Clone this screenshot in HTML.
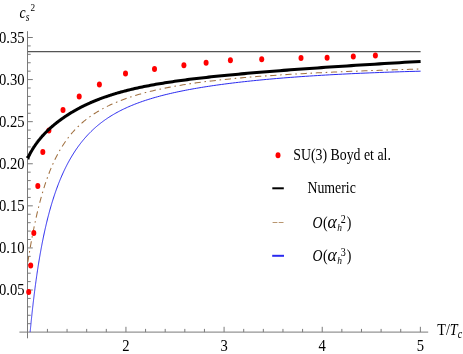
<!DOCTYPE html>
<html><head><meta charset="utf-8"><title>chart</title>
<style>html,body{margin:0;padding:0;background:#fff;}body{width:463px;height:354px;overflow:hidden;font-family:"Liberation Serif",serif;}svg{position:absolute;left:0;top:0;will-change:transform}</style></head>
<body>
<svg width="463" height="354" viewBox="0 0 463 354" style="display:block">
<rect width="463" height="354" fill="#fff"/>
<g stroke="#7a7a7a" stroke-width="1" fill="none" shape-rendering="auto">
<line x1="27.5" y1="31.2" x2="27.5" y2="338.3"/>
<line x1="19.4" y1="332.1" x2="428.2" y2="332.1"/>
<line x1="27.5" y1="323.68" x2="30.70" y2="323.68"/>
<line x1="27.5" y1="315.27" x2="30.70" y2="315.27"/>
<line x1="27.5" y1="306.85" x2="30.70" y2="306.85"/>
<line x1="27.5" y1="298.43" x2="30.70" y2="298.43"/>
<line x1="27.5" y1="290.01" x2="32.80" y2="290.01"/>
<line x1="27.5" y1="281.60" x2="30.70" y2="281.60"/>
<line x1="27.5" y1="273.18" x2="30.70" y2="273.18"/>
<line x1="27.5" y1="264.76" x2="30.70" y2="264.76"/>
<line x1="27.5" y1="256.35" x2="30.70" y2="256.35"/>
<line x1="27.5" y1="247.93" x2="32.80" y2="247.93"/>
<line x1="27.5" y1="239.51" x2="30.70" y2="239.51"/>
<line x1="27.5" y1="231.09" x2="30.70" y2="231.09"/>
<line x1="27.5" y1="222.68" x2="30.70" y2="222.68"/>
<line x1="27.5" y1="214.26" x2="30.70" y2="214.26"/>
<line x1="27.5" y1="205.84" x2="32.80" y2="205.84"/>
<line x1="27.5" y1="197.43" x2="30.70" y2="197.43"/>
<line x1="27.5" y1="189.01" x2="30.70" y2="189.01"/>
<line x1="27.5" y1="180.59" x2="30.70" y2="180.59"/>
<line x1="27.5" y1="172.17" x2="30.70" y2="172.17"/>
<line x1="27.5" y1="163.76" x2="32.80" y2="163.76"/>
<line x1="27.5" y1="155.34" x2="30.70" y2="155.34"/>
<line x1="27.5" y1="146.92" x2="30.70" y2="146.92"/>
<line x1="27.5" y1="138.51" x2="30.70" y2="138.51"/>
<line x1="27.5" y1="130.09" x2="30.70" y2="130.09"/>
<line x1="27.5" y1="121.67" x2="32.80" y2="121.67"/>
<line x1="27.5" y1="113.25" x2="30.70" y2="113.25"/>
<line x1="27.5" y1="104.84" x2="30.70" y2="104.84"/>
<line x1="27.5" y1="96.42" x2="30.70" y2="96.42"/>
<line x1="27.5" y1="88.00" x2="30.70" y2="88.00"/>
<line x1="27.5" y1="79.59" x2="32.80" y2="79.59"/>
<line x1="27.5" y1="71.17" x2="30.70" y2="71.17"/>
<line x1="27.5" y1="62.75" x2="30.70" y2="62.75"/>
<line x1="27.5" y1="54.33" x2="30.70" y2="54.33"/>
<line x1="27.5" y1="45.92" x2="30.70" y2="45.92"/>
<line x1="27.5" y1="37.50" x2="32.80" y2="37.50"/>
<line x1="47.43" y1="332.1" x2="47.43" y2="328.90"/>
<line x1="67.06" y1="332.1" x2="67.06" y2="328.90"/>
<line x1="86.68" y1="332.1" x2="86.68" y2="328.90"/>
<line x1="106.31" y1="332.1" x2="106.31" y2="328.90"/>
<line x1="125.94" y1="332.1" x2="125.94" y2="326.80"/>
<line x1="145.57" y1="332.1" x2="145.57" y2="328.90"/>
<line x1="165.20" y1="332.1" x2="165.20" y2="328.90"/>
<line x1="184.82" y1="332.1" x2="184.82" y2="328.90"/>
<line x1="204.45" y1="332.1" x2="204.45" y2="328.90"/>
<line x1="224.08" y1="332.1" x2="224.08" y2="326.80"/>
<line x1="243.71" y1="332.1" x2="243.71" y2="328.90"/>
<line x1="263.34" y1="332.1" x2="263.34" y2="328.90"/>
<line x1="282.96" y1="332.1" x2="282.96" y2="328.90"/>
<line x1="302.59" y1="332.1" x2="302.59" y2="328.90"/>
<line x1="322.22" y1="332.1" x2="322.22" y2="326.80"/>
<line x1="341.85" y1="332.1" x2="341.85" y2="328.90"/>
<line x1="361.48" y1="332.1" x2="361.48" y2="328.90"/>
<line x1="381.10" y1="332.1" x2="381.10" y2="328.90"/>
<line x1="400.73" y1="332.1" x2="400.73" y2="328.90"/>
<line x1="420.36" y1="332.1" x2="420.36" y2="326.80"/>
</g>
<line x1="27.8" y1="51.65" x2="420.6" y2="51.65" stroke="#555" stroke-width="1.1"/>
<path d="M30.14,332.10 L30.17,331.77 L30.20,331.43 L30.24,331.07 L30.27,330.72 L30.31,330.36 L30.34,329.99 L30.38,329.62 L30.41,329.25 L30.45,328.87 L30.49,328.49 L30.52,328.10 L30.56,327.71 L30.60,327.32 L30.64,326.92 L30.68,326.52 L30.72,326.11 L30.76,325.70 L30.80,325.28 L30.84,324.86 L30.89,324.43 L30.93,324.00 L30.97,323.56 L31.02,323.12 L31.06,322.68 L31.11,322.23 L31.15,321.77 L31.20,321.31 L31.25,320.85 L31.29,320.38 L31.34,319.90 L31.39,319.43 L31.44,318.94 L31.49,318.45 L31.55,317.96 L31.60,317.46 L31.65,316.95 L31.70,316.44 L31.76,315.92 L31.81,315.40 L31.87,314.88 L31.93,314.35 L31.98,313.81 L32.04,313.27 L32.10,312.72 L32.16,312.17 L32.22,311.61 L32.28,311.04 L32.35,310.47 L32.41,309.90 L32.47,309.32 L32.54,308.73 L32.61,308.14 L32.67,307.54 L32.74,306.94 L32.81,306.33 L32.88,305.71 L32.95,305.09 L33.02,304.47 L33.09,303.84 L33.17,303.20 L33.24,302.55 L33.32,301.91 L33.40,301.25 L33.47,300.59 L33.55,299.92 L33.63,299.25 L33.72,298.57 L33.80,297.89 L33.88,297.20 L33.97,296.50 L34.05,295.80 L34.14,295.09 L34.23,294.38 L34.32,293.66 L34.41,292.93 L34.50,292.20 L34.59,291.46 L34.69,290.72 L34.78,289.97 L34.88,289.21 L34.98,288.45 L35.08,287.69 L35.18,286.91 L35.29,286.13 L35.39,285.35 L35.50,284.56 L35.60,283.76 L35.71,282.96 L35.82,282.15 L35.93,281.34 L36.05,280.52 L36.16,279.69 L36.28,278.86 L36.40,278.02 L36.52,277.18 L36.64,276.33 L36.76,275.48 L36.89,274.62 L37.01,273.75 L37.14,272.88 L37.27,272.00 L37.40,271.12 L37.54,270.23 L37.67,269.34 L37.81,268.44 L37.95,267.54 L38.09,266.63 L38.24,265.71 L38.38,264.79 L38.53,263.87 L38.68,262.94 L38.83,262.00 L38.98,261.06 L39.14,260.12 L39.30,259.17 L39.46,258.21 L39.62,257.25 L39.79,256.29 L39.95,255.32 L40.12,254.34 L40.29,253.36 L40.47,252.38 L40.65,251.39 L40.82,250.40 L41.01,249.40 L41.19,248.40 L41.38,247.40 L41.57,246.39 L41.76,245.37 L41.95,244.36 L42.15,243.33 L42.35,242.31 L42.55,241.28 L42.76,240.25 L42.97,239.21 L43.18,238.17 L43.39,237.13 L43.61,236.08 L43.83,235.03 L44.05,233.98 L44.28,232.92 L44.51,231.86 L44.74,230.80 L44.98,229.73 L45.22,228.67 L45.46,227.60 L45.71,226.52 L45.96,225.45 L46.21,224.37 L46.47,223.29 L46.73,222.21 L46.99,221.12 L47.26,220.03 L47.53,218.94 L47.81,217.85 L48.09,216.76 L48.37,215.67 L48.66,214.57 L48.95,213.48 L49.24,212.38 L49.54,211.28 L49.84,210.18 L50.15,209.08 L50.46,207.97 L50.78,206.87 L51.10,205.77 L51.42,204.66 L51.75,203.56 L52.09,202.45 L52.43,201.35 L52.77,200.24 L53.12,199.13 L53.47,198.03 L53.83,196.92 L54.19,195.82 L54.56,194.71 L54.93,193.61 L55.31,192.50 L55.69,191.40 L56.08,190.30 L56.48,189.20 L56.88,188.10 L57.28,187.00 L57.69,185.90 L58.11,184.80 L58.53,183.71 L58.96,182.61 L59.40,181.52 L59.84,180.43 L60.28,179.34 L60.74,178.26 L61.20,177.17 L61.66,176.09 L62.13,175.01 L62.61,173.94 L63.10,172.86 L63.59,171.79 L64.09,170.72 L64.60,169.66 L65.11,168.59 L65.63,167.54 L66.16,166.48 L66.69,165.43 L67.23,164.38 L67.78,163.33 L68.34,162.29 L68.91,161.26 L69.48,160.22 L70.06,159.19 L70.65,158.17 L71.25,157.15 L71.85,156.13 L72.47,155.12 L73.09,154.11 L73.72,153.11 L74.36,152.11 L75.01,151.12 L75.67,150.14 L76.34,149.15 L77.01,148.18 L77.70,147.21 L78.40,146.24 L79.10,145.28 L79.82,144.33 L80.54,143.38 L81.28,142.44 L82.02,141.50 L82.78,140.57 L83.55,139.65 L84.32,138.73 L85.11,137.82 L85.91,136.92 L86.72,136.02 L87.54,135.13 L88.38,134.24 L89.22,133.37 L90.08,132.49 L90.94,131.63 L91.83,130.77 L92.72,129.92 L93.62,129.08 L94.54,128.25 L95.47,127.42 L96.42,126.60 L97.37,125.78 L98.34,124.98 L99.33,124.18 L100.32,123.39 L101.33,122.60 L102.36,121.83 L103.40,121.06 L104.45,120.30 L105.52,119.54 L106.61,118.80 L107.70,118.06 L108.82,117.33 L109.95,116.60 L111.09,115.89 L112.26,115.18 L113.43,114.48 L114.63,113.78 L115.84,113.10 L117.07,112.42 L118.31,111.75 L119.57,111.08 L120.85,110.43 L122.15,109.78 L123.47,109.14 L124.80,108.50 L126.15,107.88 L127.52,107.26 L128.91,106.64 L130.32,106.04 L131.75,105.44 L133.20,104.85 L134.67,104.26 L136.16,103.68 L137.67,103.11 L139.21,102.55 L140.76,101.99 L142.33,101.43 L143.93,100.89 L145.55,100.35 L147.19,99.82 L148.86,99.29 L150.55,98.77 L152.26,98.25 L153.99,97.74 L155.75,97.24 L157.54,96.74 L159.34,96.25 L161.18,95.76 L163.04,95.28 L164.92,94.81 L166.84,94.33 L168.78,93.87 L170.74,93.41 L172.73,92.95 L174.76,92.50 L176.80,92.06 L178.88,91.62 L180.99,91.18 L183.12,90.75 L185.29,90.32 L187.49,89.90 L189.71,89.48 L191.97,89.07 L194.26,88.66 L196.58,88.26 L198.93,87.86 L201.32,87.46 L203.74,87.07 L206.19,86.68 L208.68,86.30 L211.20,85.92 L213.76,85.54 L216.35,85.17 L218.98,84.80 L221.65,84.44 L224.35,84.08 L227.09,83.72 L229.87,83.37 L232.69,83.02 L235.55,82.67 L238.44,82.33 L241.38,81.99 L244.36,81.66 L247.38,81.33 L250.44,81.00 L253.54,80.68 L256.69,80.36 L259.88,80.05 L263.12,79.74 L266.40,79.43 L269.73,79.13 L273.10,78.83 L276.52,78.53 L279.99,78.24 L283.51,77.95 L287.07,77.67 L290.69,77.39 L294.35,77.11 L298.07,76.84 L301.84,76.57 L305.66,76.31 L309.53,76.05 L313.46,75.80 L317.44,75.55 L321.48,75.30 L325.58,75.06 L329.73,74.82 L333.94,74.59 L338.21,74.36 L342.54,74.13 L346.93,73.91 L351.38,73.70 L355.89,73.49 L360.46,73.28 L365.10,73.08 L369.81,72.88 L374.57,72.69 L379.41,72.50 L384.31,72.32 L389.28,72.14 L394.32,71.97 L399.43,71.80 L404.62,71.64 L409.87,71.48 L415.20,71.33 L420.60,71.18" fill="none" stroke="#2a2af0" stroke-width="1.0"/>
<path d="M27.80,262.28 L27.90,261.66 L27.90,261.65 L27.90,261.64 L27.90,261.63 L27.90,261.62 L27.91,261.62 L27.91,261.61 L27.91,261.60 L27.91,261.59 L27.91,261.58 L27.91,261.57 L27.91,261.56 L27.92,261.55 L27.92,261.54 L27.92,261.53 L27.92,261.52 L27.92,261.51 L27.92,261.50 L27.93,261.48 L27.93,261.47 L27.93,261.46 L27.93,261.45 L27.93,261.44 L27.93,261.43 L27.94,261.41 L27.94,261.40 L27.94,261.39 L27.94,261.38 L27.94,261.37 L27.95,261.35 L27.95,261.34 L27.95,261.33 L27.95,261.31 L27.95,261.30 L27.96,261.29 L27.96,261.27 L27.96,261.26 L27.96,261.24 L27.97,261.23 L27.97,261.21 L27.97,261.20 L27.97,261.18 L27.98,261.17 L27.98,261.15 L27.98,261.14 L27.98,261.12 L27.99,261.11 L27.99,261.09 L27.99,261.07 L27.99,261.06 L28.00,261.04 L28.00,261.02 L28.00,261.00 L28.00,260.99 L28.01,260.97 L28.01,260.95 L28.01,260.93 L28.02,260.91 L28.02,260.89 L28.02,260.87 L28.03,260.86 L28.03,260.84 L28.03,260.82 L28.03,260.80 L28.04,260.77 L28.04,260.75 L28.04,260.73 L28.05,260.71 L28.05,260.69 L28.06,260.67 L28.06,260.64 L28.06,260.62 L28.07,260.60 L28.07,260.57 L28.07,260.55 L28.08,260.53 L28.08,260.50 L28.09,260.48 L28.09,260.45 L28.09,260.43 L28.10,260.40 L28.10,260.38 L28.11,260.35 L28.11,260.32 L28.11,260.30 L28.12,260.27 L28.12,260.24 L28.13,260.21 L28.13,260.18 L28.14,260.15 L28.14,260.12 L28.15,260.09 L28.15,260.06 L28.16,260.03 L28.16,260.00 L28.17,259.97 L28.17,259.94 L28.18,259.91 L28.18,259.87 L28.19,259.84 L28.19,259.81 L28.20,259.77 L28.20,259.74 L28.21,259.70 L28.21,259.67 L28.22,259.63 L28.23,259.59 L28.23,259.56 L28.24,259.52 L28.24,259.48 L28.25,259.44 L28.26,259.40 L28.26,259.36 L28.27,259.32 L28.28,259.28 L28.28,259.24 L28.29,259.20 L28.30,259.16 L28.30,259.11 L28.31,259.07 L28.32,259.02 L28.32,258.98 L28.33,258.93 L28.34,258.89 L28.35,258.84 L28.35,258.79 L28.36,258.74 L28.37,258.70 L28.38,258.65 L28.39,258.60 L28.39,258.55 L28.40,258.49 L28.41,258.44 L28.42,258.39 L28.43,258.34 L28.44,258.28 L28.45,258.23 L28.45,258.17 L28.46,258.11 L28.47,258.06 L28.48,258.00 L28.49,257.94 L28.50,257.88 L28.51,257.82 L28.52,257.76 L28.53,257.70 L28.54,257.63 L28.55,257.57 L28.56,257.50 L28.57,257.44 L28.58,257.37 L28.59,257.30 L28.61,257.24 L28.62,257.17 L28.63,257.10 L28.64,257.03 L28.65,256.95 L28.66,256.88 L28.68,256.81 L28.69,256.73 L28.70,256.66 L28.71,256.58 L28.72,256.50 L28.74,256.42 L28.75,256.34 L28.76,256.26 L28.78,256.18 L28.79,256.09 L28.81,256.01 L28.82,255.92 L28.83,255.84 L28.85,255.75 L28.86,255.66 L28.88,255.57 L28.89,255.48 L28.91,255.39 L28.92,255.29 L28.94,255.20 L28.95,255.10 L28.97,255.00 L28.99,254.90 L29.00,254.80 L29.02,254.70 L29.04,254.60 L29.05,254.49 L29.07,254.39 L29.09,254.28 L29.11,254.17 L29.13,254.06 L29.14,253.95 L29.16,253.84 L29.18,253.72 L29.20,253.61 L29.22,253.49 L29.24,253.37 L29.26,253.25 L29.28,253.13 L29.30,253.01 L29.32,252.88 L29.34,252.75 L29.37,252.62 L29.39,252.49 L29.41,252.36 L29.43,252.23 L29.45,252.09 L29.48,251.96 L29.50,251.82 L29.52,251.68 L29.55,251.53 L29.57,251.39 L29.60,251.24 L29.62,251.10 L29.65,250.95 L29.67,250.79 L29.70,250.64 L29.73,250.48 L29.75,250.33 L29.78,250.17 L29.81,250.00 L29.84,249.84 L29.86,249.67 L29.89,249.51 L29.92,249.34 L29.95,249.16 L29.98,248.99 L30.01,248.81 L30.04,248.63 L30.08,248.45 L30.11,248.27 L30.14,248.08 L30.17,247.89 L30.20,247.70 L30.24,247.51 L30.27,247.31 L30.31,247.12 L30.34,246.92 L30.38,246.71 L30.41,246.51 L30.45,246.30 L30.49,246.09 L30.52,245.88 L30.56,245.66 L30.60,245.44 L30.64,245.22 L30.68,245.00 L30.72,244.77 L30.76,244.54 L30.80,244.31 L30.84,244.07 L30.89,243.84 L30.93,243.60 L30.97,243.35 L31.02,243.11 L31.06,242.86 L31.11,242.61 L31.15,242.35 L31.20,242.09 L31.25,241.83 L31.29,241.57 L31.34,241.30 L31.39,241.03 L31.44,240.75 L31.49,240.48 L31.55,240.20 L31.60,239.91 L31.65,239.62 L31.70,239.33 L31.76,239.04 L31.81,238.74 L31.87,238.44 L31.93,238.14 L31.98,237.83 L32.04,237.52 L32.10,237.20 L32.16,236.89 L32.22,236.56 L32.28,236.24 L32.35,235.91 L32.41,235.58 L32.47,235.24 L32.54,234.90 L32.61,234.56 L32.67,234.21 L32.74,233.86 L32.81,233.50 L32.88,233.14 L32.95,232.78 L33.02,232.41 L33.09,232.04 L33.17,231.67 L33.24,231.29 L33.32,230.90 L33.40,230.52 L33.47,230.13 L33.55,229.73 L33.63,229.33 L33.72,228.93 L33.80,228.52 L33.88,228.11 L33.97,227.69 L34.05,227.27 L34.14,226.84 L34.23,226.42 L34.32,225.98 L34.41,225.54 L34.50,225.10 L34.59,224.66 L34.69,224.20 L34.78,223.75 L34.88,223.29 L34.98,222.83 L35.08,222.36 L35.18,221.88 L35.29,221.41 L35.39,220.92 L35.50,220.44 L35.60,219.95 L35.71,219.45 L35.82,218.95 L35.93,218.45 L36.05,217.94 L36.16,217.42 L36.28,216.90 L36.40,216.38 L36.52,215.85 L36.64,215.32 L36.76,214.79 L36.89,214.24 L37.01,213.70 L37.14,213.15 L37.27,212.59 L37.40,212.03 L37.54,211.47 L37.67,210.90 L37.81,210.33 L37.95,209.75 L38.09,209.17 L38.24,208.58 L38.38,207.99 L38.53,207.39 L38.68,206.79 L38.83,206.19 L38.98,205.58 L39.14,204.97 L39.30,204.35 L39.46,203.73 L39.62,203.10 L39.79,202.47 L39.95,201.83 L40.12,201.19 L40.29,200.55 L40.47,199.90 L40.65,199.25 L40.82,198.59 L41.01,197.93 L41.19,197.27 L41.38,196.60 L41.57,195.93 L41.76,195.25 L41.95,194.57 L42.15,193.89 L42.35,193.20 L42.55,192.51 L42.76,191.82 L42.97,191.12 L43.18,190.42 L43.39,189.71 L43.61,189.00 L43.83,188.29 L44.05,187.57 L44.28,186.86 L44.51,186.13 L44.74,185.41 L44.98,184.68 L45.22,183.95 L45.46,183.22 L45.71,182.48 L45.96,181.74 L46.21,181.00 L46.47,180.26 L46.73,179.51 L46.99,178.76 L47.26,178.01 L47.53,177.26 L47.81,176.50 L48.09,175.74 L48.37,174.98 L48.66,174.22 L48.95,173.46 L49.24,172.69 L49.54,171.93 L49.84,171.16 L50.15,170.39 L50.46,169.62 L50.78,168.85 L51.10,168.08 L51.42,167.30 L51.75,166.53 L52.09,165.75 L52.43,164.98 L52.77,164.20 L53.12,163.43 L53.47,162.65 L53.83,161.87 L54.19,161.10 L54.56,160.32 L54.93,159.54 L55.31,158.76 L55.69,157.99 L56.08,157.21 L56.48,156.44 L56.88,155.66 L57.28,154.89 L57.69,154.11 L58.11,153.34 L58.53,152.57 L58.96,151.80 L59.40,151.03 L59.84,150.26 L60.28,149.50 L60.74,148.73 L61.20,147.97 L61.66,147.21 L62.13,146.45 L62.61,145.69 L63.10,144.93 L63.59,144.18 L64.09,143.43 L64.60,142.68 L65.11,141.93 L65.63,141.19 L66.16,140.45 L66.69,139.71 L67.23,138.97 L67.78,138.24 L68.34,137.51 L68.91,136.78 L69.48,136.05 L70.06,135.33 L70.65,134.61 L71.25,133.90 L71.85,133.19 L72.47,132.48 L73.09,131.77 L73.72,131.07 L74.36,130.37 L75.01,129.67 L75.67,128.98 L76.34,128.29 L77.01,127.61 L77.70,126.93 L78.40,126.25 L79.10,125.58 L79.82,124.91 L80.54,124.24 L81.28,123.58 L82.02,122.92 L82.78,122.27 L83.55,121.62 L84.32,120.97 L85.11,120.33 L85.91,119.69 L86.72,119.06 L87.54,118.43 L88.38,117.80 L89.22,117.18 L90.08,116.57 L90.94,115.95 L91.83,115.34 L92.72,114.74 L93.62,114.14 L94.54,113.54 L95.47,112.95 L96.42,112.36 L97.37,111.77 L98.34,111.19 L99.33,110.62 L100.32,110.04 L101.33,109.48 L102.36,108.91 L103.40,108.35 L104.45,107.80 L105.52,107.24 L106.61,106.70 L107.70,106.15 L108.82,105.61 L109.95,105.08 L111.09,104.55 L112.26,104.02 L113.43,103.50 L114.63,102.98 L115.84,102.47 L117.07,101.95 L118.31,101.45 L119.57,100.95 L120.85,100.45 L122.15,99.95 L123.47,99.46 L124.80,98.98 L126.15,98.49 L127.52,98.02 L128.91,97.54 L130.32,97.07 L131.75,96.61 L133.20,96.14 L134.67,95.69 L136.16,95.23 L137.67,94.78 L139.21,94.34 L140.76,93.90 L142.33,93.46 L143.93,93.02 L145.55,92.59 L147.19,92.17 L148.86,91.75 L150.55,91.33 L152.26,90.92 L153.99,90.51 L155.75,90.10 L157.54,89.70 L159.34,89.30 L161.18,88.91 L163.04,88.52 L164.92,88.13 L166.84,87.75 L168.78,87.37 L170.74,87.00 L172.73,86.63 L174.76,86.27 L176.80,85.91 L178.88,85.55 L180.99,85.19 L183.12,84.84 L185.29,84.50 L187.49,84.16 L189.71,83.82 L191.97,83.49 L194.26,83.16 L196.58,82.83 L198.93,82.51 L201.32,82.19 L203.74,81.87 L206.19,81.56 L208.68,81.26 L211.20,80.95 L213.76,80.65 L216.35,80.36 L218.98,80.07 L221.65,79.78 L224.35,79.49 L227.09,79.21 L229.87,78.93 L232.69,78.66 L235.55,78.39 L238.44,78.12 L241.38,77.86 L244.36,77.60 L247.38,77.34 L250.44,77.09 L253.54,76.84 L256.69,76.59 L259.88,76.35 L263.12,76.11 L266.40,75.87 L269.73,75.64 L273.10,75.40 L276.52,75.18 L279.99,74.95 L283.51,74.73 L287.07,74.51 L290.69,74.29 L294.35,74.08 L298.07,73.87 L301.84,73.66 L305.66,73.45 L309.53,73.25 L313.46,73.05 L317.44,72.85 L321.48,72.66 L325.58,72.46 L329.73,72.27 L333.94,72.08 L338.21,71.90 L342.54,71.71 L346.93,71.53 L351.38,71.35 L355.89,71.17 L360.46,70.99 L365.10,70.82 L369.81,70.65 L374.57,70.47 L379.41,70.30 L384.31,70.14 L389.28,69.97 L394.32,69.81 L399.43,69.64 L404.62,69.48 L409.87,69.32 L415.20,69.16 L420.60,69.01" fill="none" stroke="#a07040" stroke-width="1.05" stroke-dasharray="6.2 3.7 1.6 3.7"/>
<ellipse cx="28.7" cy="292.1" rx="2.5" ry="3.0" fill="#f00"/>
<ellipse cx="30.7" cy="265.6" rx="2.5" ry="3.0" fill="#f00"/>
<ellipse cx="33.8" cy="233.1" rx="2.5" ry="3.0" fill="#f00"/>
<ellipse cx="37.8" cy="186.1" rx="2.5" ry="3.0" fill="#f00"/>
<ellipse cx="42.8" cy="152.1" rx="2.5" ry="3.0" fill="#f00"/>
<ellipse cx="48.9" cy="130.4" rx="2.5" ry="3.0" fill="#f00"/>
<ellipse cx="63.0" cy="109.9" rx="2.5" ry="3.0" fill="#f00"/>
<ellipse cx="79.2" cy="96.6" rx="2.5" ry="3.0" fill="#f00"/>
<ellipse cx="99.4" cy="84.4" rx="2.5" ry="3.0" fill="#f00"/>
<ellipse cx="125.5" cy="73.6" rx="2.5" ry="3.0" fill="#f00"/>
<ellipse cx="154.5" cy="68.9" rx="2.5" ry="3.0" fill="#f00"/>
<ellipse cx="183.9" cy="65.2" rx="2.5" ry="3.0" fill="#f00"/>
<ellipse cx="206.1" cy="62.7" rx="2.5" ry="3.0" fill="#f00"/>
<ellipse cx="230.4" cy="60.3" rx="2.5" ry="3.0" fill="#f00"/>
<ellipse cx="261.7" cy="59.2" rx="2.5" ry="3.0" fill="#f00"/>
<ellipse cx="301" cy="57.9" rx="2.5" ry="3.0" fill="#f00"/>
<ellipse cx="327.1" cy="57.7" rx="2.5" ry="3.0" fill="#f00"/>
<ellipse cx="353.3" cy="56.4" rx="2.5" ry="3.0" fill="#f00"/>
<ellipse cx="375.4" cy="55.4" rx="2.5" ry="3.0" fill="#f00"/>
<path d="M27.80,158.12 L27.90,157.91 L27.90,157.91 L27.90,157.91 L27.90,157.90 L27.90,157.90 L27.91,157.90 L27.91,157.90 L27.91,157.89 L27.91,157.89 L27.91,157.89 L27.91,157.88 L27.91,157.88 L27.92,157.88 L27.92,157.87 L27.92,157.87 L27.92,157.87 L27.92,157.86 L27.92,157.86 L27.93,157.85 L27.93,157.85 L27.93,157.85 L27.93,157.84 L27.93,157.84 L27.93,157.84 L27.94,157.83 L27.94,157.83 L27.94,157.82 L27.94,157.82 L27.94,157.82 L27.95,157.81 L27.95,157.81 L27.95,157.80 L27.95,157.80 L27.95,157.79 L27.96,157.79 L27.96,157.78 L27.96,157.78 L27.96,157.77 L27.97,157.77 L27.97,157.76 L27.97,157.76 L27.97,157.75 L27.98,157.75 L27.98,157.74 L27.98,157.74 L27.98,157.73 L27.99,157.73 L27.99,157.72 L27.99,157.72 L27.99,157.71 L28.00,157.71 L28.00,157.70 L28.00,157.69 L28.00,157.69 L28.01,157.68 L28.01,157.68 L28.01,157.67 L28.02,157.66 L28.02,157.66 L28.02,157.65 L28.03,157.64 L28.03,157.64 L28.03,157.63 L28.03,157.62 L28.04,157.62 L28.04,157.61 L28.04,157.60 L28.05,157.60 L28.05,157.59 L28.06,157.58 L28.06,157.57 L28.06,157.57 L28.07,157.56 L28.07,157.55 L28.07,157.54 L28.08,157.54 L28.08,157.53 L28.09,157.52 L28.09,157.51 L28.09,157.50 L28.10,157.49 L28.10,157.48 L28.11,157.48 L28.11,157.47 L28.11,157.46 L28.12,157.45 L28.12,157.44 L28.13,157.43 L28.13,157.42 L28.14,157.41 L28.14,157.40 L28.15,157.39 L28.15,157.38 L28.16,157.37 L28.16,157.36 L28.17,157.35 L28.17,157.34 L28.18,157.33 L28.18,157.32 L28.19,157.31 L28.19,157.29 L28.20,157.28 L28.20,157.27 L28.21,157.26 L28.21,157.25 L28.22,157.24 L28.23,157.22 L28.23,157.21 L28.24,157.20 L28.24,157.19 L28.25,157.17 L28.26,157.16 L28.26,157.15 L28.27,157.13 L28.28,157.12 L28.28,157.11 L28.29,157.09 L28.30,157.08 L28.30,157.06 L28.31,157.05 L28.32,157.03 L28.32,157.02 L28.33,157.00 L28.34,156.99 L28.35,156.97 L28.35,156.96 L28.36,156.94 L28.37,156.93 L28.38,156.91 L28.39,156.89 L28.39,156.88 L28.40,156.86 L28.41,156.84 L28.42,156.82 L28.43,156.81 L28.44,156.79 L28.45,156.77 L28.45,156.75 L28.46,156.73 L28.47,156.71 L28.48,156.69 L28.49,156.67 L28.50,156.66 L28.51,156.64 L28.52,156.61 L28.53,156.59 L28.54,156.57 L28.55,156.55 L28.56,156.53 L28.57,156.51 L28.58,156.49 L28.59,156.47 L28.61,156.44 L28.62,156.42 L28.63,156.40 L28.64,156.37 L28.65,156.35 L28.66,156.33 L28.68,156.30 L28.69,156.28 L28.70,156.25 L28.71,156.23 L28.72,156.20 L28.74,156.17 L28.75,156.15 L28.76,156.12 L28.78,156.09 L28.79,156.07 L28.81,156.04 L28.82,156.01 L28.83,155.98 L28.85,155.95 L28.86,155.92 L28.88,155.89 L28.89,155.86 L28.91,155.83 L28.92,155.80 L28.94,155.77 L28.95,155.74 L28.97,155.71 L28.99,155.67 L29.00,155.64 L29.02,155.61 L29.04,155.57 L29.05,155.54 L29.07,155.51 L29.09,155.47 L29.11,155.43 L29.13,155.40 L29.14,155.36 L29.16,155.33 L29.18,155.29 L29.20,155.25 L29.22,155.21 L29.24,155.17 L29.26,155.13 L29.28,155.09 L29.30,155.05 L29.32,155.01 L29.34,154.97 L29.37,154.93 L29.39,154.89 L29.41,154.84 L29.43,154.80 L29.45,154.76 L29.48,154.71 L29.50,154.67 L29.52,154.62 L29.55,154.57 L29.57,154.53 L29.60,154.48 L29.62,154.43 L29.65,154.38 L29.67,154.33 L29.70,154.28 L29.73,154.23 L29.75,154.18 L29.78,154.13 L29.81,154.08 L29.84,154.02 L29.86,153.97 L29.89,153.91 L29.92,153.86 L29.95,153.80 L29.98,153.75 L30.01,153.69 L30.04,153.63 L30.08,153.57 L30.11,153.51 L30.14,153.45 L30.17,153.39 L30.20,153.33 L30.24,153.27 L30.27,153.21 L30.31,153.14 L30.34,153.08 L30.38,153.01 L30.41,152.95 L30.45,152.88 L30.49,152.81 L30.52,152.74 L30.56,152.67 L30.60,152.60 L30.64,152.53 L30.68,152.46 L30.72,152.39 L30.76,152.32 L30.80,152.24 L30.84,152.17 L30.89,152.09 L30.93,152.01 L30.97,151.94 L31.02,151.86 L31.06,151.78 L31.11,151.70 L31.15,151.62 L31.20,151.53 L31.25,151.45 L31.29,151.37 L31.34,151.28 L31.39,151.19 L31.44,151.11 L31.49,151.02 L31.55,150.93 L31.60,150.84 L31.65,150.75 L31.70,150.66 L31.76,150.56 L31.81,150.47 L31.87,150.37 L31.93,150.28 L31.98,150.18 L32.04,150.08 L32.10,149.98 L32.16,149.88 L32.22,149.78 L32.28,149.68 L32.35,149.57 L32.41,149.47 L32.47,149.36 L32.54,149.25 L32.61,149.14 L32.67,149.03 L32.74,148.92 L32.81,148.81 L32.88,148.70 L32.95,148.58 L33.02,148.47 L33.09,148.35 L33.17,148.23 L33.24,148.12 L33.32,147.99 L33.40,147.87 L33.47,147.75 L33.55,147.63 L33.63,147.50 L33.72,147.37 L33.80,147.25 L33.88,147.12 L33.97,146.99 L34.05,146.85 L34.14,146.72 L34.23,146.59 L34.32,146.45 L34.41,146.31 L34.50,146.18 L34.59,146.04 L34.69,145.90 L34.78,145.75 L34.88,145.61 L34.98,145.46 L35.08,145.32 L35.18,145.17 L35.29,145.02 L35.39,144.87 L35.50,144.72 L35.60,144.56 L35.71,144.41 L35.82,144.25 L35.93,144.09 L36.05,143.93 L36.16,143.77 L36.28,143.61 L36.40,143.45 L36.52,143.28 L36.64,143.12 L36.76,142.95 L36.89,142.78 L37.01,142.61 L37.14,142.43 L37.27,142.26 L37.40,142.08 L37.54,141.91 L37.67,141.73 L37.81,141.55 L37.95,141.37 L38.09,141.18 L38.24,141.00 L38.38,140.81 L38.53,140.62 L38.68,140.43 L38.83,140.24 L38.98,140.05 L39.14,139.85 L39.30,139.66 L39.46,139.46 L39.62,139.26 L39.79,139.06 L39.95,138.86 L40.12,138.65 L40.29,138.45 L40.47,138.24 L40.65,138.03 L40.82,137.82 L41.01,137.61 L41.19,137.39 L41.38,137.18 L41.57,136.96 L41.76,136.74 L41.95,136.52 L42.15,136.30 L42.35,136.07 L42.55,135.85 L42.76,135.62 L42.97,135.39 L43.18,135.16 L43.39,134.93 L43.61,134.69 L43.83,134.46 L44.05,134.22 L44.28,133.98 L44.51,133.74 L44.74,133.49 L44.98,133.25 L45.22,133.00 L45.46,132.75 L45.71,132.50 L45.96,132.25 L46.21,132.00 L46.47,131.74 L46.73,131.48 L46.99,131.22 L47.26,130.96 L47.53,130.70 L47.81,130.43 L48.09,130.17 L48.37,129.90 L48.66,129.63 L48.95,129.36 L49.24,129.08 L49.54,128.81 L49.84,128.53 L50.15,128.25 L50.46,127.97 L50.78,127.68 L51.10,127.40 L51.42,127.11 L51.75,126.82 L52.09,126.53 L52.43,126.24 L52.77,125.94 L53.12,125.65 L53.47,125.35 L53.83,125.05 L54.19,124.75 L54.56,124.44 L54.93,124.14 L55.31,123.83 L55.69,123.52 L56.08,123.21 L56.48,122.89 L56.88,122.58 L57.28,122.26 L57.69,121.94 L58.11,121.62 L58.53,121.30 L58.96,120.97 L59.40,120.65 L59.84,120.32 L60.28,119.99 L60.74,119.66 L61.20,119.32 L61.66,118.99 L62.13,118.65 L62.61,118.31 L63.10,117.97 L63.59,117.63 L64.09,117.29 L64.60,116.94 L65.11,116.60 L65.63,116.25 L66.16,115.90 L66.69,115.54 L67.23,115.19 L67.78,114.84 L68.34,114.48 L68.91,114.12 L69.48,113.76 L70.06,113.40 L70.65,113.04 L71.25,112.67 L71.85,112.31 L72.47,111.94 L73.09,111.58 L73.72,111.21 L74.36,110.84 L75.01,110.47 L75.67,110.10 L76.34,109.72 L77.01,109.35 L77.70,108.97 L78.40,108.60 L79.10,108.22 L79.82,107.84 L80.54,107.47 L81.28,107.09 L82.02,106.71 L82.78,106.33 L83.55,105.95 L84.32,105.57 L85.11,105.19 L85.91,104.80 L86.72,104.42 L87.54,104.04 L88.38,103.66 L89.22,103.27 L90.08,102.89 L90.94,102.51 L91.83,102.13 L92.72,101.75 L93.62,101.36 L94.54,100.98 L95.47,100.60 L96.42,100.22 L97.37,99.84 L98.34,99.46 L99.33,99.08 L100.32,98.70 L101.33,98.32 L102.36,97.94 L103.40,97.57 L104.45,97.19 L105.52,96.82 L106.61,96.44 L107.70,96.07 L108.82,95.70 L109.95,95.33 L111.09,94.96 L112.26,94.59 L113.43,94.23 L114.63,93.86 L115.84,93.50 L117.07,93.14 L118.31,92.78 L119.57,92.42 L120.85,92.06 L122.15,91.71 L123.47,91.35 L124.80,91.00 L126.15,90.65 L127.52,90.30 L128.91,89.96 L130.32,89.61 L131.75,89.27 L133.20,88.93 L134.67,88.59 L136.16,88.26 L137.67,87.92 L139.21,87.59 L140.76,87.26 L142.33,86.93 L143.93,86.60 L145.55,86.28 L147.19,85.96 L148.86,85.64 L150.55,85.32 L152.26,85.00 L153.99,84.69 L155.75,84.37 L157.54,84.06 L159.34,83.76 L161.18,83.45 L163.04,83.14 L164.92,82.84 L166.84,82.54 L168.78,82.24 L170.74,81.94 L172.73,81.65 L174.76,81.36 L176.80,81.06 L178.88,80.77 L180.99,80.48 L183.12,80.20 L185.29,79.91 L187.49,79.63 L189.71,79.34 L191.97,79.06 L194.26,78.78 L196.58,78.50 L198.93,78.22 L201.32,77.95 L203.74,77.67 L206.19,77.40 L208.68,77.12 L211.20,76.85 L213.76,76.58 L216.35,76.30 L218.98,76.03 L221.65,75.76 L224.35,75.49 L227.09,75.22 L229.87,74.96 L232.69,74.69 L235.55,74.42 L238.44,74.15 L241.38,73.88 L244.36,73.61 L247.38,73.35 L250.44,73.08 L253.54,72.81 L256.69,72.54 L259.88,72.27 L263.12,72.00 L266.40,71.74 L269.73,71.47 L273.10,71.20 L276.52,70.93 L279.99,70.65 L283.51,70.38 L287.07,70.11 L290.69,69.84 L294.35,69.56 L298.07,69.29 L301.84,69.01 L305.66,68.73 L309.53,68.46 L313.46,68.18 L317.44,67.90 L321.48,67.62 L325.58,67.34 L329.73,67.05 L333.94,66.77 L338.21,66.48 L342.54,66.20 L346.93,65.91 L351.38,65.62 L355.89,65.33 L360.46,65.04 L365.10,64.74 L369.81,64.45 L374.57,64.15 L379.41,63.86 L384.31,63.56 L389.28,63.26 L394.32,62.96 L399.43,62.65 L404.62,62.35 L409.87,62.04 L415.20,61.74 L420.60,61.43" fill="none" stroke="#000" stroke-width="3.05"/>
<ellipse cx="278" cy="155.3" rx="2.5" ry="3.0" fill="#f00"/>
<line x1="272.3" y1="188.3" x2="283.8" y2="188.3" stroke="#000" stroke-width="2"/>
<line x1="272.6" y1="222.5" x2="283.5" y2="222.5" stroke="#b08a60" stroke-width="0.9" stroke-dasharray="4.8 1.3"/>
<line x1="272.2" y1="255.8" x2="284" y2="255.8" stroke="#2a2af0" stroke-width="2"/>
<g font-family="'Liberation Serif', serif" fill="#000">
<text transform="translate(24.6,295.31) scale(0.86,1)" font-size="17" text-anchor="end" >0.05</text>
<text transform="translate(24.6,253.23) scale(0.86,1)" font-size="17" text-anchor="end" >0.10</text>
<text transform="translate(24.6,211.14) scale(0.86,1)" font-size="17" text-anchor="end" >0.15</text>
<text transform="translate(24.6,169.06) scale(0.86,1)" font-size="17" text-anchor="end" >0.20</text>
<text transform="translate(24.6,126.97) scale(0.86,1)" font-size="17" text-anchor="end" >0.25</text>
<text transform="translate(24.6,84.89) scale(0.86,1)" font-size="17" text-anchor="end" >0.30</text>
<text transform="translate(24.6,42.8) scale(0.86,1)" font-size="17" text-anchor="end" >0.35</text>
<text transform="translate(125.94,350.8) scale(0.86,1)" font-size="17" text-anchor="middle" >2</text>
<text transform="translate(224.08,350.8) scale(0.86,1)" font-size="17" text-anchor="middle" >3</text>
<text transform="translate(322.22,350.8) scale(0.86,1)" font-size="17" text-anchor="middle" >4</text>
<text transform="translate(420.36,350.8) scale(0.86,1)" font-size="17" text-anchor="middle" >5</text>
<text transform="translate(293.2,159.9) scale(0.84,1)" font-size="16.5" text-anchor="start" >SU(3) Boyd et al.</text>
<text transform="translate(307.4,193.2) scale(0.84,1)" font-size="16.5" text-anchor="start" >Numeric</text>
<text transform="translate(312.6,227.9) scale(0.84,1)" font-size="16.5" text-anchor="start" font-style="italic">O</text>
<text transform="translate(322.9,227.9) scale(0.84,1)" font-size="16.5" text-anchor="start" >(</text>
<text transform="translate(327.6,227.9) scale(0.98,1)" font-size="18" text-anchor="start" font-style="italic">α</text>
<text transform="translate(337.3,231.1) scale(0.84,1)" font-size="11.3" text-anchor="start" font-style="italic">h</text>
<text transform="translate(340.8,222.70000000000002) scale(0.84,1)" font-size="12" text-anchor="start" >2</text>
<text transform="translate(346.8,227.9) scale(0.84,1)" font-size="16.5" text-anchor="start" >)</text>
<text transform="translate(312.6,260.7) scale(0.84,1)" font-size="16.5" text-anchor="start" font-style="italic">O</text>
<text transform="translate(322.9,260.7) scale(0.84,1)" font-size="16.5" text-anchor="start" >(</text>
<text transform="translate(327.6,260.7) scale(0.98,1)" font-size="18" text-anchor="start" font-style="italic">α</text>
<text transform="translate(337.3,263.9) scale(0.84,1)" font-size="11.3" text-anchor="start" font-style="italic">h</text>
<text transform="translate(340.8,255.5) scale(0.84,1)" font-size="12" text-anchor="start" >3</text>
<text transform="translate(346.8,260.7) scale(0.84,1)" font-size="16.5" text-anchor="start" >)</text>
<text transform="translate(19.5,18) scale(0.84,1)" font-size="16.5" text-anchor="start" ><tspan font-style="italic">c</tspan><tspan font-style="italic" font-size="11.5" dy="3">s</tspan><tspan font-size="11" dy="-10" dx="1.2">2</tspan></text>
<text transform="translate(437.3,334.5) scale(0.84,1)" font-size="16.8" text-anchor="start" >T/<tspan font-style="italic">T</tspan><tspan font-style="italic" font-size="12" dy="3">c</tspan></text>
</g>
</svg>
</body></html>
